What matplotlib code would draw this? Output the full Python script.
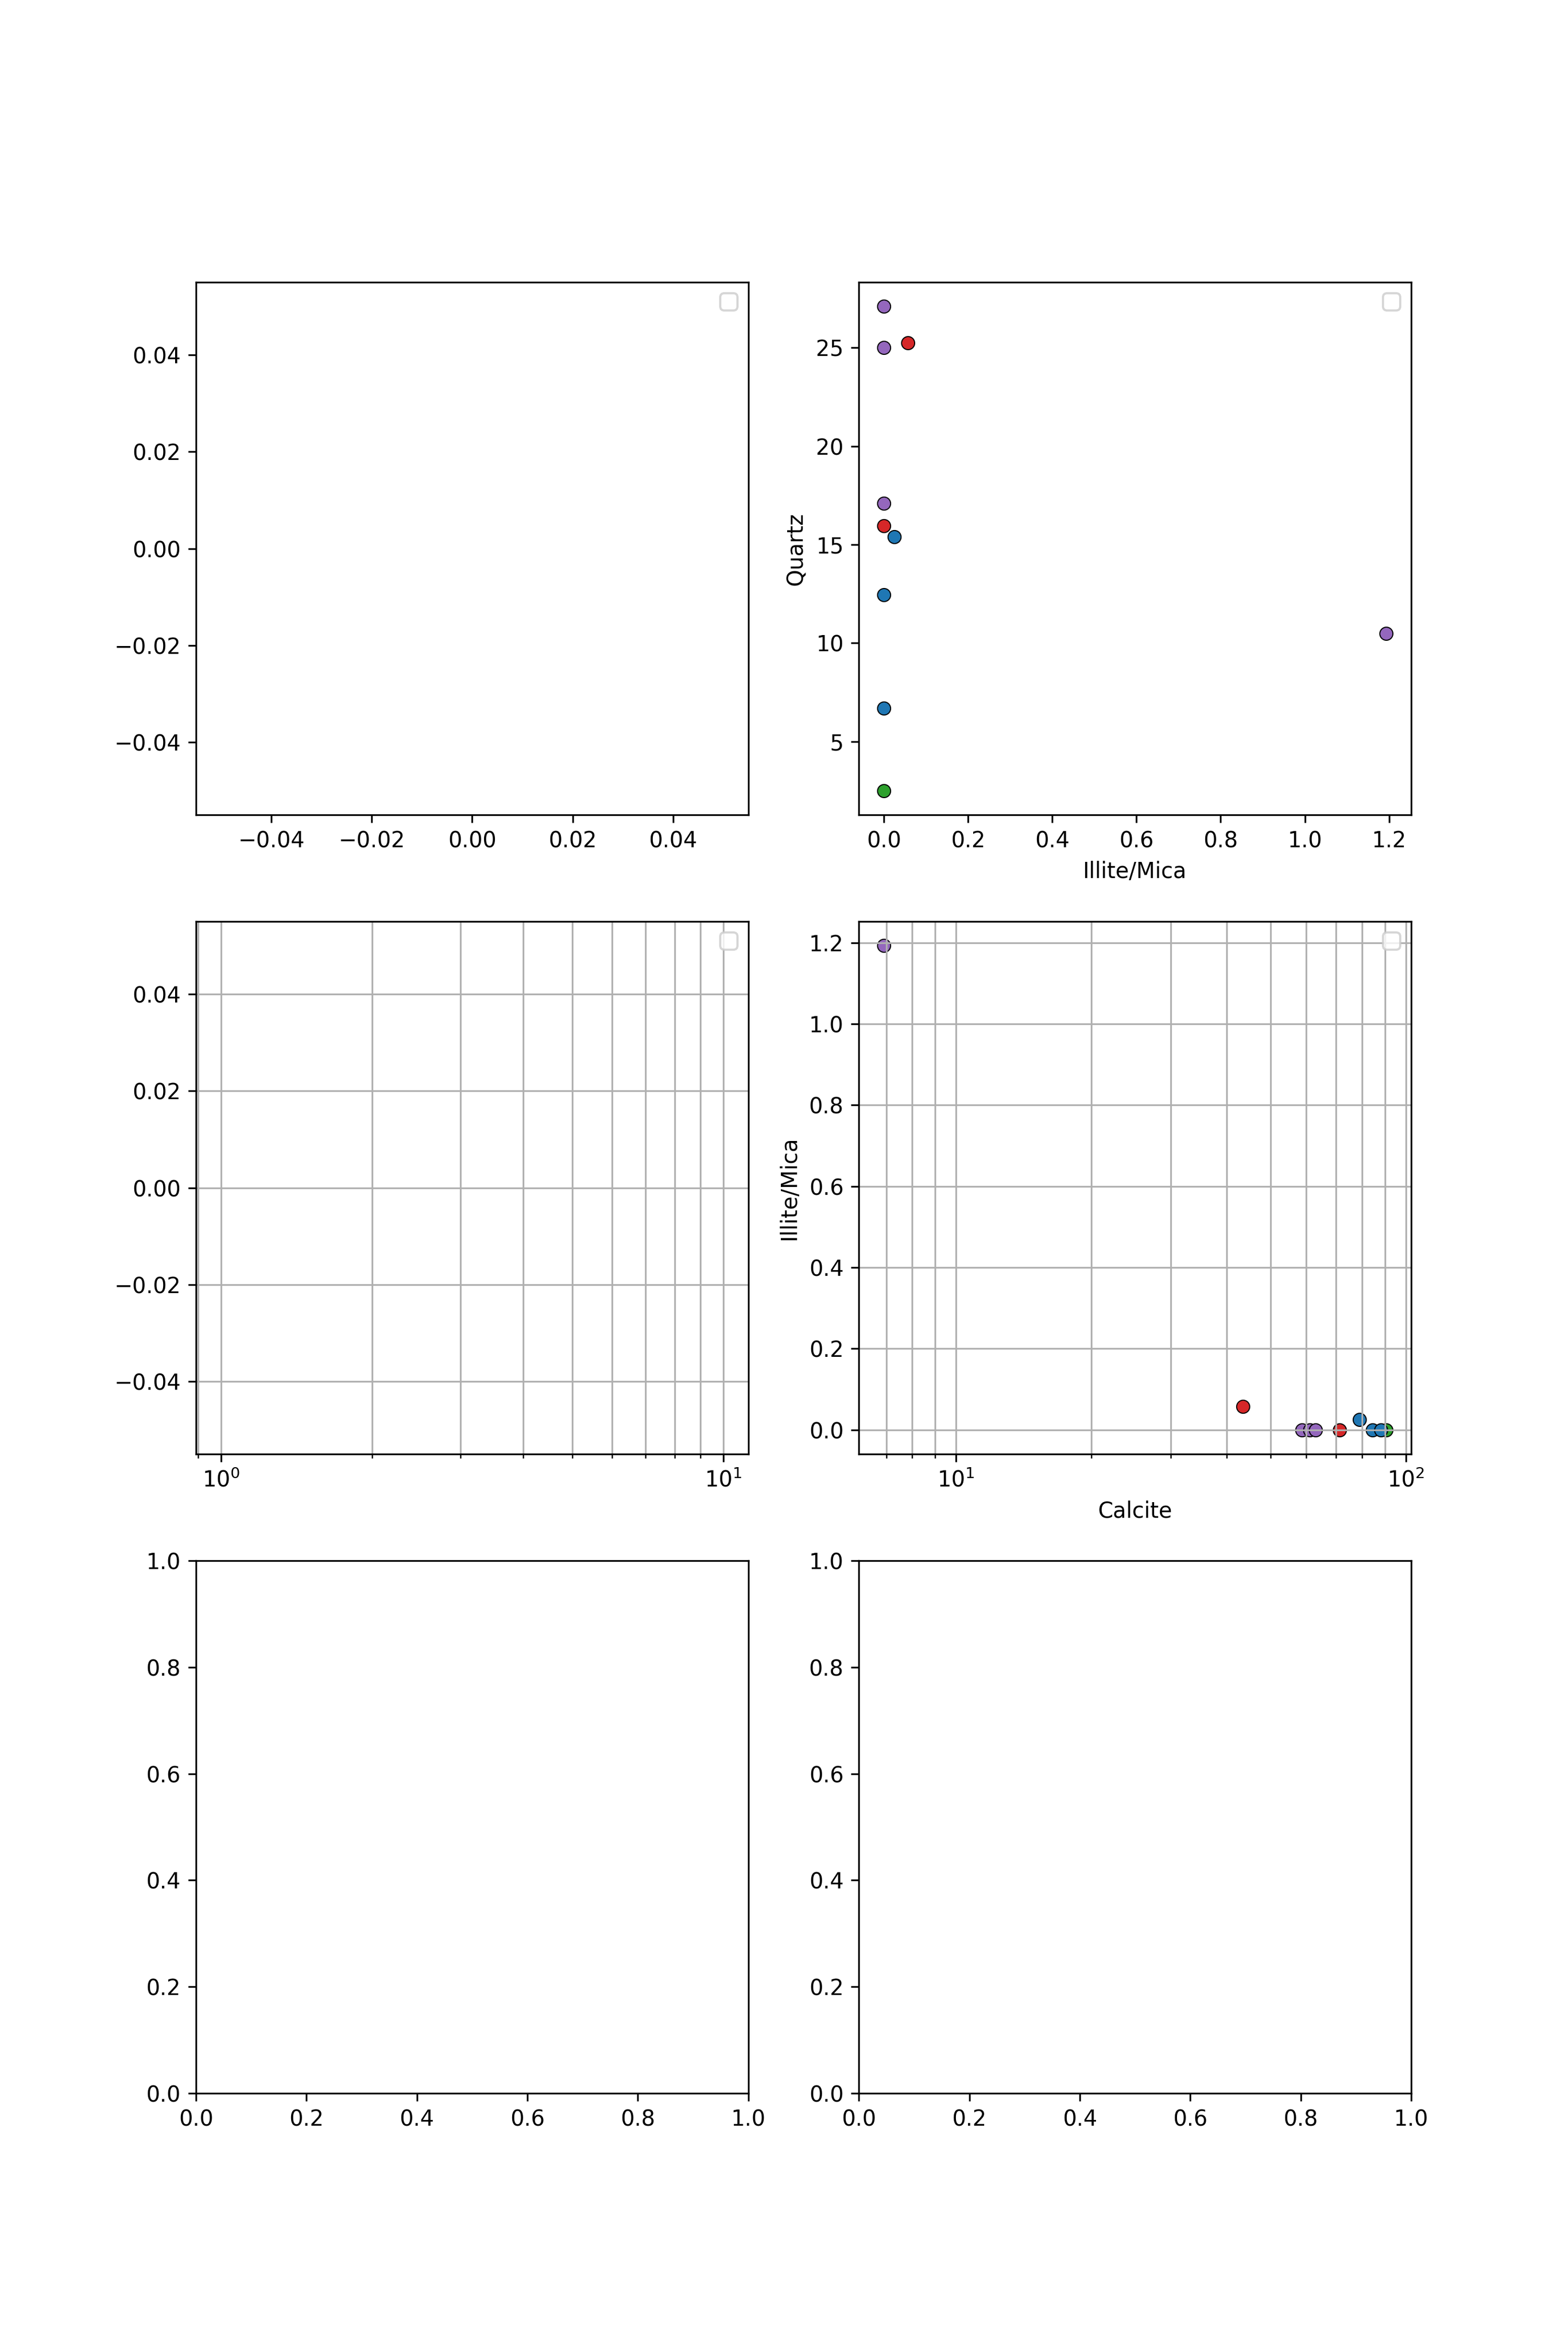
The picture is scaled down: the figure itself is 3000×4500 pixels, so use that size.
import matplotlib
matplotlib.use("Agg")
import matplotlib.pyplot as plt

# mineral fractions per sample, grouped by facies colour (drawing order)
groups = ['tab:green', 'tab:purple', 'tab:red', 'tab:blue']

quartz = {
    'tab:purple': [27.1, 25.0, 17.1, 10.5],
    'tab:red': [25.25, 15.95],
    'tab:blue': [15.4, 12.45, 6.7],
    'tab:green': [2.5],
}
illite_mica = {
    'tab:purple': [0.0, 0.0, 0.0, 1.193],
    'tab:red': [0.057, 0.0],
    'tab:blue': [0.025, 0.0, 0.0],
    'tab:green': [0.0],
}
calcite = {
    'tab:purple': [58.8, 61.2, 63.0, 6.92],
    'tab:red': [43.5, 71.3],
    'tab:blue': [78.8, 84.3, 88.0],
    'tab:green': [90.4],
}
# columns with no measured values
dolomite = []
pyrite = []

fig, axes = plt.subplots(3, 2, figsize=(10, 15))

# top left: nothing measured
ax = axes[0, 0]
ax.scatter(dolomite, pyrite, edgecolors='k', linewidths=0.5)
ax.legend()

# top right: quartz vs illite/mica
ax = axes[0, 1]
for g in groups:
    ax.scatter(illite_mica[g], quartz[g], c=g, edgecolors='k', linewidths=0.5)
ax.set_xlabel('Illite/Mica')
ax.set_ylabel('Quartz')
ax.legend()

# middle left: empty, log x
ax = axes[1, 0]
ax.scatter(dolomite, pyrite, edgecolors='k', linewidths=0.5)
ax.set_xscale('log')
ax.grid(True, which='both')
ax.legend()

# middle right: illite/mica vs calcite
ax = axes[1, 1]
for g in groups:
    ax.scatter(calcite[g], illite_mica[g], c=g, edgecolors='k', linewidths=0.5)
ax.set_xscale('log')
ax.grid(True, which='both')
ax.set_xlabel('Calcite')
ax.set_ylabel('Illite/Mica')
ax.legend()

plt.savefig('out.png', dpi=300)
